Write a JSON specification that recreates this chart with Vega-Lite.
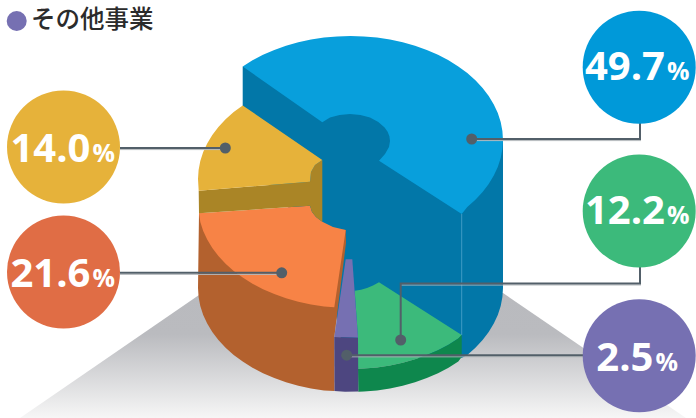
{
"$schema":"https://vega.github.io/schema/vega-lite/v6.json",
"width":696,"height":418,"padding":0,"autosize":{"type":"fit","contains":"padding"},
"background":"#ffffff","view":{"stroke":null},
"datasets":{
"ground":[{"seq":1,"x":199,"y":295},{"seq":2,"x":20,"y":418},{"seq":3,"x":686,"y":418},{"seq":4,"x":503,"y":293}],
"solid":[
{"part":"blueSide","seq":1,"x":242.7,"y":66.5},{"part":"blueSide","seq":2,"x":503,"y":140},{"part":"blueSide","seq":3,"x":503,"y":288},{"part":"blueSide","seq":4,"x":502.4,"y":297.1},{"part":"blueSide","seq":5,"x":500.7,"y":306.1},{"part":"blueSide","seq":6,"x":497.8,"y":314.9},{"part":"blueSide","seq":7,"x":493.8,"y":323.6},{"part":"blueSide","seq":8,"x":488.7,"y":332},{"part":"blueSide","seq":9,"x":482.6,"y":340},{"part":"blueSide","seq":10,"x":475.4,"y":347.7},{"part":"blueSide","seq":11,"x":467.3,"y":354.9},{"part":"blueSide","seq":12,"x":461.7,"y":358},{"part":"blueSide","seq":13,"x":345,"y":358},{"part":"blueSide","seq":14,"x":322,"y":250},{"part":"blueSide","seq":15,"x":242.7,"y":150},
{"part":"greenTop","seq":1,"x":354.7,"y":290.7},{"part":"greenTop","seq":2,"x":361,"y":289.8},{"part":"greenTop","seq":3,"x":367,"y":288},{"part":"greenTop","seq":4,"x":373,"y":285.5},{"part":"greenTop","seq":5,"x":379,"y":282.3},{"part":"greenTop","seq":6,"x":461.7,"y":335},{"part":"greenTop","seq":7,"x":458.3,"y":338.5},{"part":"greenTop","seq":8,"x":448.5,"y":344.7},{"part":"greenTop","seq":9,"x":438,"y":350.2},{"part":"greenTop","seq":10,"x":426.8,"y":355.1},{"part":"greenTop","seq":11,"x":415,"y":359.2},{"part":"greenTop","seq":12,"x":402.7,"y":362.8},{"part":"greenTop","seq":13,"x":390,"y":365.5},{"part":"greenTop","seq":14,"x":377,"y":367.4},{"part":"greenTop","seq":15,"x":363.8,"y":368.6},{"part":"greenTop","seq":16,"x":358,"y":368.8},{"part":"greenTop","seq":17,"x":358,"y":337.7},
{"part":"greenSide","seq":1,"x":461.7,"y":335},{"part":"greenSide","seq":2,"x":461.7,"y":357},{"part":"greenSide","seq":3,"x":458.3,"y":361.5},{"part":"greenSide","seq":4,"x":448.5,"y":367.7},{"part":"greenSide","seq":5,"x":438,"y":373.2},{"part":"greenSide","seq":6,"x":426.8,"y":378.1},{"part":"greenSide","seq":7,"x":415,"y":382.2},{"part":"greenSide","seq":8,"x":402.7,"y":385.8},{"part":"greenSide","seq":9,"x":390,"y":388.5},{"part":"greenSide","seq":10,"x":377,"y":390.4},{"part":"greenSide","seq":11,"x":363.8,"y":391.6},{"part":"greenSide","seq":12,"x":358.3,"y":391.7},{"part":"greenSide","seq":13,"x":358,"y":368.8},{"part":"greenSide","seq":14,"x":363.8,"y":368.6},{"part":"greenSide","seq":15,"x":377,"y":367.4},{"part":"greenSide","seq":16,"x":390,"y":365.5},{"part":"greenSide","seq":17,"x":402.7,"y":362.8},{"part":"greenSide","seq":18,"x":415,"y":359.2},{"part":"greenSide","seq":19,"x":426.8,"y":355.1},{"part":"greenSide","seq":20,"x":438,"y":350.2},{"part":"greenSide","seq":21,"x":448.5,"y":344.7},{"part":"greenSide","seq":22,"x":458.3,"y":338.5},
{"part":"orangeSide","seq":1,"x":345.7,"y":230},{"part":"orangeSide","seq":2,"x":346,"y":243},{"part":"orangeSide","seq":3,"x":334.3,"y":337},{"part":"orangeSide","seq":4,"x":334.5,"y":391},{"part":"orangeSide","seq":5,"x":324,"y":390.4},{"part":"orangeSide","seq":6,"x":311,"y":388.5},{"part":"orangeSide","seq":7,"x":298.3,"y":385.8},{"part":"orangeSide","seq":8,"x":286,"y":382.2},{"part":"orangeSide","seq":9,"x":274.3,"y":378.1},{"part":"orangeSide","seq":10,"x":263,"y":373.2},{"part":"orangeSide","seq":11,"x":252.5,"y":367.7},{"part":"orangeSide","seq":12,"x":242.7,"y":361.5},{"part":"orangeSide","seq":13,"x":233.7,"y":354.9},{"part":"orangeSide","seq":14,"x":225.6,"y":347.7},{"part":"orangeSide","seq":15,"x":218.4,"y":340},{"part":"orangeSide","seq":16,"x":212.3,"y":332},{"part":"orangeSide","seq":17,"x":207.2,"y":323.6},{"part":"orangeSide","seq":18,"x":203.2,"y":314.9},{"part":"orangeSide","seq":19,"x":200.3,"y":306.1},{"part":"orangeSide","seq":20,"x":198.6,"y":297.1},{"part":"orangeSide","seq":21,"x":198,"y":288},{"part":"orangeSide","seq":22,"x":199,"y":213.3},
{"part":"orangeTop","seq":1,"x":199,"y":213.3},{"part":"orangeTop","seq":2,"x":310,"y":205.7},{"part":"orangeTop","seq":3,"x":312,"y":212},{"part":"orangeTop","seq":4,"x":316,"y":217},{"part":"orangeTop","seq":5,"x":322.3,"y":221.7},{"part":"orangeTop","seq":6,"x":333,"y":227},{"part":"orangeTop","seq":7,"x":345.7,"y":230},{"part":"orangeTop","seq":8,"x":334.3,"y":307.3},{"part":"orangeTop","seq":9,"x":324,"y":306.4},{"part":"orangeTop","seq":10,"x":311,"y":304.5},{"part":"orangeTop","seq":11,"x":298.3,"y":301.8},{"part":"orangeTop","seq":12,"x":286,"y":298.2},{"part":"orangeTop","seq":13,"x":274.3,"y":294.1},{"part":"orangeTop","seq":14,"x":263,"y":289.2},{"part":"orangeTop","seq":15,"x":252.5,"y":283.7},{"part":"orangeTop","seq":16,"x":242.7,"y":277.5},{"part":"orangeTop","seq":17,"x":233.7,"y":270.9},{"part":"orangeTop","seq":18,"x":225.6,"y":263.7},{"part":"orangeTop","seq":19,"x":218.4,"y":256},{"part":"orangeTop","seq":20,"x":212.3,"y":248},{"part":"orangeTop","seq":21,"x":207.2,"y":239.6},{"part":"orangeTop","seq":22,"x":203.2,"y":230.9},{"part":"orangeTop","seq":23,"x":200.3,"y":222.1},
{"part":"yellowSide","seq":1,"x":322.3,"y":160},{"part":"yellowSide","seq":2,"x":315,"y":165},{"part":"yellowSide","seq":3,"x":311,"y":172},{"part":"yellowSide","seq":4,"x":310,"y":181.7},{"part":"yellowSide","seq":5,"x":198.7,"y":190.7},{"part":"yellowSide","seq":6,"x":199,"y":213.3},{"part":"yellowSide","seq":7,"x":310,"y":205.7},{"part":"yellowSide","seq":8,"x":312,"y":212},{"part":"yellowSide","seq":9,"x":316,"y":217},{"part":"yellowSide","seq":10,"x":322.3,"y":221.7},
{"part":"yellowTop","seq":1,"x":198.7,"y":190.7},{"part":"yellowTop","seq":2,"x":198,"y":179},{"part":"yellowTop","seq":3,"x":198.6,"y":169.9},{"part":"yellowTop","seq":4,"x":200.3,"y":160.9},{"part":"yellowTop","seq":5,"x":203.2,"y":152.1},{"part":"yellowTop","seq":6,"x":207.2,"y":143.4},{"part":"yellowTop","seq":7,"x":212.3,"y":135},{"part":"yellowTop","seq":8,"x":218.4,"y":127},{"part":"yellowTop","seq":9,"x":225.6,"y":119.3},{"part":"yellowTop","seq":10,"x":233.7,"y":112.1},{"part":"yellowTop","seq":11,"x":242.7,"y":105.5},{"part":"yellowTop","seq":12,"x":322.3,"y":160},{"part":"yellowTop","seq":13,"x":315,"y":165},{"part":"yellowTop","seq":14,"x":311,"y":172},{"part":"yellowTop","seq":15,"x":310,"y":181.7},
{"part":"purpleTop","seq":1,"x":345.7,"y":259.3},{"part":"purpleTop","seq":2,"x":352.3,"y":259.3},{"part":"purpleTop","seq":3,"x":358,"y":337.7},{"part":"purpleTop","seq":4,"x":334.3,"y":337},
{"part":"purpleSide","seq":1,"x":334.3,"y":337},{"part":"purpleSide","seq":2,"x":358,"y":337.7},{"part":"purpleSide","seq":3,"x":358.3,"y":391.5},{"part":"purpleSide","seq":4,"x":345,"y":391.7},{"part":"purpleSide","seq":5,"x":334.5,"y":391},
{"part":"blueTop","seq":1,"x":242.7,"y":66.5},{"part":"blueTop","seq":2,"x":252.5,"y":60.3},{"part":"blueTop","seq":3,"x":263,"y":54.8},{"part":"blueTop","seq":4,"x":274.3,"y":49.9},{"part":"blueTop","seq":5,"x":286,"y":45.8},{"part":"blueTop","seq":6,"x":298.3,"y":42.2},{"part":"blueTop","seq":7,"x":311,"y":39.5},{"part":"blueTop","seq":8,"x":324,"y":37.6},{"part":"blueTop","seq":9,"x":337.2,"y":36.4},{"part":"blueTop","seq":10,"x":350.5,"y":36},{"part":"blueTop","seq":11,"x":363.8,"y":36.4},{"part":"blueTop","seq":12,"x":377,"y":37.6},{"part":"blueTop","seq":13,"x":390,"y":39.5},{"part":"blueTop","seq":14,"x":402.7,"y":42.2},{"part":"blueTop","seq":15,"x":415,"y":45.8},{"part":"blueTop","seq":16,"x":426.8,"y":49.9},{"part":"blueTop","seq":17,"x":438,"y":54.8},{"part":"blueTop","seq":18,"x":448.5,"y":60.3},{"part":"blueTop","seq":19,"x":458.3,"y":66.5},{"part":"blueTop","seq":20,"x":467.3,"y":73.1},{"part":"blueTop","seq":21,"x":475.4,"y":80.3},{"part":"blueTop","seq":22,"x":482.6,"y":88},{"part":"blueTop","seq":23,"x":488.7,"y":96},{"part":"blueTop","seq":24,"x":493.8,"y":104.4},{"part":"blueTop","seq":25,"x":497.8,"y":113.1},{"part":"blueTop","seq":26,"x":500.7,"y":121.9},{"part":"blueTop","seq":27,"x":502.4,"y":130.9},{"part":"blueTop","seq":28,"x":503,"y":140},{"part":"blueTop","seq":29,"x":502.4,"y":149.1},{"part":"blueTop","seq":30,"x":500.7,"y":158.1},{"part":"blueTop","seq":31,"x":497.8,"y":166.9},{"part":"blueTop","seq":32,"x":493.8,"y":175.6},{"part":"blueTop","seq":33,"x":488.7,"y":184},{"part":"blueTop","seq":34,"x":482.6,"y":192},{"part":"blueTop","seq":35,"x":475.4,"y":199.7},{"part":"blueTop","seq":36,"x":467.3,"y":206.9},{"part":"blueTop","seq":37,"x":461.7,"y":214},{"part":"blueTop","seq":38,"x":379,"y":160.7},{"part":"blueTop","seq":39,"x":385,"y":154},{"part":"blueTop","seq":40,"x":389,"y":147},{"part":"blueTop","seq":41,"x":390,"y":141},{"part":"blueTop","seq":42,"x":389.4,"y":136.3},{"part":"blueTop","seq":43,"x":387.6,"y":131.8},{"part":"blueTop","seq":44,"x":384.6,"y":127.5},{"part":"blueTop","seq":45,"x":378.3,"y":121.9},{"part":"blueTop","seq":46,"x":370,"y":117.6},{"part":"blueTop","seq":47,"x":360.4,"y":114.9},{"part":"blueTop","seq":48,"x":350,"y":114},{"part":"blueTop","seq":49,"x":339.6,"y":114.9},{"part":"blueTop","seq":50,"x":330,"y":117.6},{"part":"blueTop","seq":51,"x":322.3,"y":122.3}
],
"seam":[{"seq":1,"x":461.7,"y":214},{"seq":2,"x":461.7,"y":335}],
"leaderShade":[
{"leader":"a","seq":1,"x":120,"y":149.6},{"leader":"a","seq":2,"x":225,"y":149.6},
{"leader":"b","seq":1,"x":120,"y":274.4},{"leader":"b","seq":2,"x":282,"y":274.4},
{"leader":"c","seq":1,"x":472,"y":140.6},{"leader":"c","seq":2,"x":641,"y":140.6},
{"leader":"d","seq":1,"x":401,"y":285},{"leader":"d","seq":2,"x":641,"y":285},
{"leader":"e","seq":1,"x":347,"y":356.8},{"leader":"e","seq":2,"x":583,"y":356.8}
],
"leaders":[
{"leader":"事業A","seq":1,"x":120,"y":148},{"leader":"事業A","seq":2,"x":225.3,"y":148},
{"leader":"事業B","seq":1,"x":120,"y":272.8},{"leader":"事業B","seq":2,"x":281.7,"y":272.8},
{"leader":"事業C","seq":1,"x":471.7,"y":139},{"leader":"事業C","seq":2,"x":640,"y":139},{"leader":"事業C","seq":3,"x":640,"y":120},
{"leader":"事業D","seq":1,"x":400.7,"y":340},{"leader":"事業D","seq":2,"x":400.7,"y":283.4},{"leader":"事業D","seq":3,"x":640,"y":283.4},{"leader":"事業D","seq":4,"x":640,"y":264},
{"leader":"その他事業","seq":1,"x":346.7,"y":355.2},{"leader":"その他事業","seq":2,"x":585,"y":355.2}
],
"segments":[
{"name":"事業C","value":49.7,"cx":639.2,"cy":67.2,"dotx":471.7,"doty":139,"numx":665,"pctx":667,"base":80},
{"name":"事業D","value":12.2,"cx":639.2,"cy":211,"dotx":400.7,"doty":340,"numx":665,"pctx":667,"base":224},
{"name":"その他事業","value":2.5,"cx":639.2,"cy":355.8,"dotx":346.7,"doty":355.2,"numx":653.5,"pctx":655.5,"base":371},
{"name":"事業B","value":21.6,"cx":63.5,"cy":272,"dotx":281.7,"doty":272.8,"numx":90.5,"pctx":92.5,"base":287.3},
{"name":"事業A","value":14.0,"cx":63.5,"cy":147,"dotx":225.3,"doty":148,"numx":90.5,"pctx":92.5,"base":161.7}
],
"title":[{"label":"その他事業","dotx":16.7,"x":31,"y":21}]
},
"layer":[
{"data":{"name":"ground"},
 "mark":{"type":"line","stroke":null,"fill":{"gradient":"linear","x1":0,"y1":0,"x2":0,"y2":1,"stops":[{"offset":0,"color":"#b9babe"},{"offset":0.33,"color":"#babbbf"},{"offset":1,"color":"#f6f6f6"}]}},
 "encoding":{"x":{"field":"x","type":"quantitative","scale":{"domain":[0,696],"nice":false,"zero":false},"axis":null},
  "y":{"field":"y","type":"quantitative","scale":{"domain":[418,0],"nice":false,"zero":false},"axis":null},
  "order":{"field":"seq","type":"quantitative"}}},
{"data":{"name":"solid"},
 "mark":{"type":"line","stroke":null},
 "encoding":{"x":{"field":"x","type":"quantitative"},"y":{"field":"y","type":"quantitative"},
  "order":{"field":"seq","type":"quantitative"},
  "fill":{"field":"part","type":"nominal","legend":null,"scale":{
   "domain":["blueSide","greenTop","greenSide","orangeSide","orangeTop","yellowSide","yellowTop","purpleTop","purpleSide","blueTop"],
   "range":["#0277a8","#3cba7b","#0e874d","#b3612e","#f78346","#aa8526","#e6b23a","#7670b2","#4d4680","#089fdc"]}}}},
{"data":{"name":"seam"},"mark":{"type":"line","stroke":"#3f9cc4","strokeWidth":1},
 "encoding":{"x":{"field":"x","type":"quantitative"},"y":{"field":"y","type":"quantitative"},"order":{"field":"seq","type":"quantitative"}}},
{"data":{"name":"leaderShade"},"mark":{"type":"line","stroke":"#b4b9bc","strokeWidth":1},
 "encoding":{"x":{"field":"x","type":"quantitative"},"y":{"field":"y","type":"quantitative"},"detail":{"field":"leader"},"order":{"field":"seq","type":"quantitative"}}},
{"data":{"name":"leaders"},"mark":{"type":"line","stroke":"#525f69","strokeWidth":2},
 "encoding":{"x":{"field":"x","type":"quantitative"},"y":{"field":"y","type":"quantitative"},"detail":{"field":"leader"},"order":{"field":"seq","type":"quantitative"}}},
{"data":{"name":"segments"},"mark":{"type":"point","filled":true,"opacity":1,"size":121,"color":"#525f69"},
 "encoding":{"x":{"field":"dotx","type":"quantitative"},"y":{"field":"doty","type":"quantitative"}}},
{"data":{"name":"segments"},"mark":{"type":"point","filled":true,"opacity":1,"size":12769},
 "encoding":{"x":{"field":"cx","type":"quantitative"},"y":{"field":"cy","type":"quantitative"},
  "color":{"field":"name","type":"nominal","legend":null,"scale":{"domain":["事業C","事業D","その他事業","事業B","事業A"],"range":["#0099d9","#3cba7b","#7670b2","#e06d45","#e6b23a"]}}}},
{"data":{"name":"segments"},"mark":{"type":"text","font":"Open Sans","fontWeight":"bold","fontSize":40,"align":"right","baseline":"alphabetic","color":"#ffffff"},
 "encoding":{"x":{"field":"numx","type":"quantitative"},"y":{"field":"base","type":"quantitative"},"text":{"field":"value","type":"quantitative","format":".1f"}}},
{"data":{"name":"segments"},"mark":{"type":"text","font":"Open Sans","fontWeight":"bold","fontSize":25,"align":"left","baseline":"alphabetic","color":"#ffffff","text":"%"},
 "encoding":{"x":{"field":"pctx","type":"quantitative"},"y":{"field":"base","type":"quantitative"}}},
{"data":{"name":"title"},"mark":{"type":"point","filled":true,"opacity":1,"size":400,"color":"#7670b2"},
 "encoding":{"x":{"field":"dotx","type":"quantitative"},"y":{"field":"y","type":"quantitative"}}},
{"data":{"name":"title"},"mark":{"type":"text","font":"Noto Sans CJK JP","fontWeight":500,"fontSize":24.5,"align":"left","baseline":"middle","color":"#2b2b2b"},
 "encoding":{"x":{"field":"x","type":"quantitative"},"y":{"field":"y","type":"quantitative"},"text":{"field":"label"}}}
]
}
